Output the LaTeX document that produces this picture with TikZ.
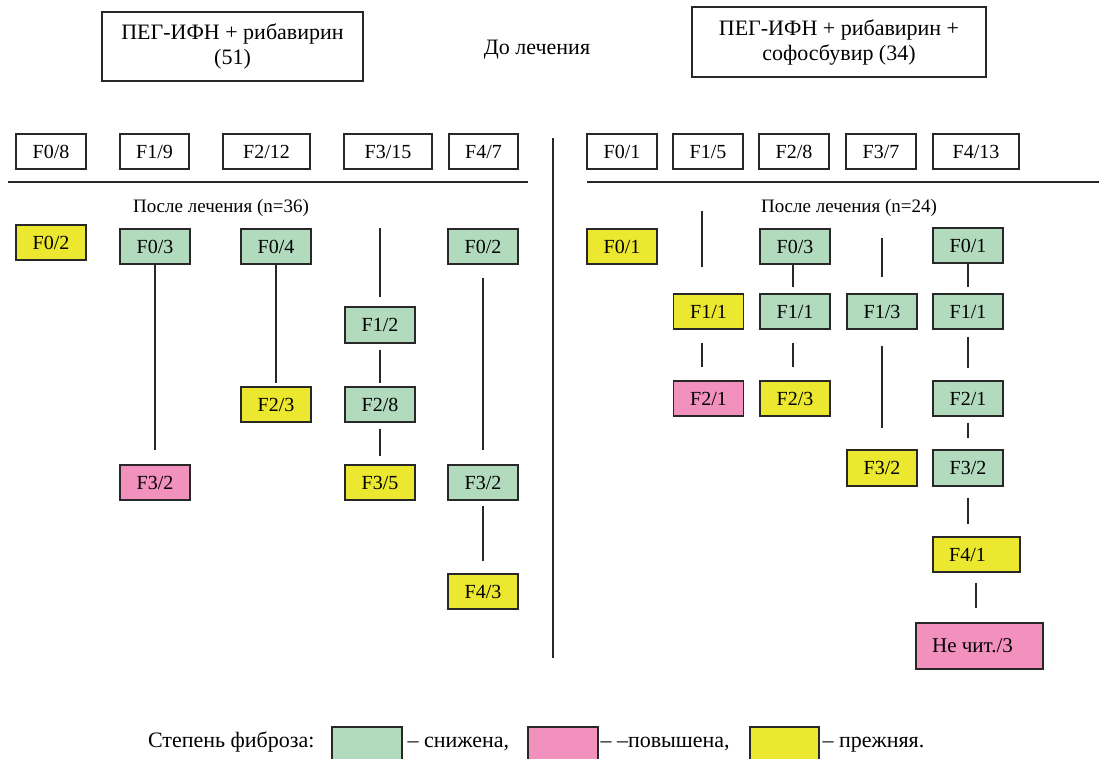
\documentclass[tikz,border=0pt]{standalone}
\usepackage{fontspec}
\setmainfont{Liberation Serif}
\definecolor{cgreen}{RGB}{178,219,190}
\definecolor{cpink}{RGB}{242,145,190}
\definecolor{cyellow}{RGB}{236,232,48}
\definecolor{cline}{RGB}{40,40,40}
\begin{document}
\begin{tikzpicture}[x=1pt,y=-1pt,
  every node/.style={font=\fontsize{20}{23}\selectfont, text=black},
  fbox/.style={draw=cline, line width=1.3pt, minimum width=70pt, minimum height=35pt, inner sep=0pt, text height=15.5pt, text depth=2pt},
  gbox/.style={fbox, fill=cgreen},
  pbox/.style={fbox, fill=cpink},
  ybox/.style={fbox, fill=cyellow},
  hbox/.style={fbox, line width=1.1pt},
  tbox/.style={draw=cline, line width=1.1pt, inner sep=0pt, align=center},
  conn/.style={draw=cline, line width=1.4pt},
  big/.style={font=\fontsize{22}{25}\selectfont},
  lbl/.style={font=\fontsize{19}{22}\selectfont},
  leg/.style={font=\fontsize{22}{25}\selectfont}
]
\useasboundingbox (0,0) rectangle (1099,758);

% titles
\node[tbox, big, minimum width=261pt, minimum height=69pt] (tl) at (232.5,46.5) {ПЕГ-ИФН + рибавирин\\(51)};
\node[tbox, big, minimum width=294pt, minimum height=70pt] (tr) at (839,42) {ПЕГ-ИФН + рибавирин +\\софосбувир (34)};
\node[big] (before) at (537,50) {До лечения};

% header left
\node[hbox, minimum width=70pt] (hL0) at (51,151.5) {F0/8};
\node[hbox, minimum width=69pt] (hL1) at (154.5,151.5) {F1/9};
\node[hbox, minimum width=87pt] (hL2) at (266.5,151.5) {F2/12};
\node[hbox, minimum width=88pt] (hL3) at (388,151.5) {F3/15};
\node[hbox, minimum width=69pt] (hL4) at (483.5,151.5) {F4/7};
% header right
\node[hbox] (hR0) at (622,151.5) {F0/1};
\node[hbox] (hR1) at (708,151.5) {F1/5};
\node[hbox] (hR2) at (794,151.5) {F2/8};
\node[hbox] (hR3) at (881,151.5) {F3/7};
\node[hbox, minimum width=86pt] (hR4) at (976,151.5) {F4/13};

% separators
\coordinate (sepL1) at (8,182);
\coordinate (sepL2) at (528,182);
\coordinate (sepR1) at (587,182);
\coordinate (sepR2) at (1099,182);
\coordinate (divT) at (553,138);
\coordinate (divB) at (553,658);
\draw[conn] (sepL1) -- (sepL2);
\draw[conn] (sepR1) -- (sepR2);
\draw[conn] (divT) -- (divB);

\node[lbl] (afterL) at (221,208) {После лечения (n=36)};
\node[lbl] (afterR) at (849,208) {После лечения (n=24)};

% lower left
\node[ybox] (a1) at (51,242.5) {F0/2};
\node[gbox] (b1) at (155,246.5) {F0/3};
\node[pbox] (b2) at (155,482.5) {F3/2};
\node[gbox] (c1) at (276,246.5) {F0/4};
\node[ybox] (c2) at (276,404.5) {F2/3};
\coordinate (d0) at (380,228);
\node[gbox, minimum height=36pt] (d1) at (380,325) {F1/2};
\node[gbox] (d2) at (380,404.5) {F2/8};
\node[ybox] (d3) at (380,482.5) {F3/5};
\node[gbox] (e1) at (483,246.5) {F0/2};
\node[gbox] (e2) at (483,482.5) {F3/2};
\node[ybox] (e3) at (483,591.5) {F4/3};

\draw[conn, shorten >=14pt] (b1.south) -- (b2.north);
\draw[conn, shorten >=3pt] (c1.south) -- (c2.north);
\draw[conn, shorten >=9pt] (d0) -- (d1.north);
\draw[conn, shorten <=6pt, shorten >=3pt] (d1.south) -- (d2.north);
\draw[conn, shorten <=6pt, shorten >=8pt] (d2.south) -- (d3.north);
\draw[conn, shorten <=13pt, shorten >=14pt] (e1.south) -- (e2.north);
\draw[conn, shorten <=5pt, shorten >=12pt] (e2.south) -- (e3.north);

% lower right
\node[ybox] (f1) at (622,246.5) {F0/1};
\coordinate (g0) at (702,211);
\node[ybox] (g1) at (708.5,311.5) {F1/1};
\node[pbox] (g2) at (708.5,398.5) {F2/1};
\node[gbox] (h1) at (795,246.5) {F0/3};
\node[gbox] (h2) at (795,311.5) {F1/1};
\node[ybox] (h3) at (795,398.5) {F2/3};
\coordinate (i0) at (882,238);
\node[gbox] (i1) at (882,311.5) {F1/3};
\node[ybox, minimum height=36pt] (i2) at (882,468) {F3/2};
\node[gbox] (j1) at (968,245.5) {F0/1};
\node[gbox] (j2) at (968,311.5) {F1/1};
\node[gbox] (j3) at (968,398.5) {F2/1};
\node[gbox, minimum height=36pt] (j4) at (968,468) {F3/2};
\node[ybox, minimum width=87pt] (j5) at (976.5,554.5) {\hspace*{-18pt}F4/1};
\node[pbox, minimum width=127pt, minimum height=46pt, font=\fontsize{21}{24}\selectfont] (j6) at (979.5,646) {\hspace*{-14pt}Не чит./3};

\draw[conn, shorten >=26pt] (g0) -- (g0 |- g1.north);
\draw[conn, shorten <=13pt, shorten >=13pt] ([xshift=-6.5pt]g1.south) -- ([xshift=-6.5pt]g2.north);
\draw[conn, shorten >=6pt] ([xshift=-2pt]h1.south) -- ([xshift=-2pt]h2.north);
\draw[conn, shorten <=13pt, shorten >=13pt] ([xshift=-2pt]h2.south) -- ([xshift=-2pt]h3.north);
\draw[conn, shorten >=16pt] (i0) -- (i1.north);
\draw[conn, shorten <=16pt, shorten >=21pt] (i1.south) -- (i2.north);
\draw[conn, shorten >=6pt] (j1.south) -- (j2.north);
\draw[conn, shorten <=7pt, shorten >=12pt] (j2.south) -- (j3.north);
\draw[conn, shorten <=6pt, shorten >=11pt] (j3.south) -- (j4.north);
\draw[conn, shorten <=11pt, shorten >=12pt] (j4.south) -- (j4.south |- j5.north);
\draw[conn, shorten <=10pt, shorten >=14pt] ([xshift=-0.5pt]j5.south) -- ([xshift=-0.5pt]j5.south |- j6.north);

% legend
\node[leg, anchor=base east] (lgT) at (318,747) {Степень фиброза:};
\node[gbox, minimum height=36pt] (lgG) at (367,745) {};
\node[leg, anchor=base west] (lgGt) at (404,747) {– снижена,};
\node[pbox, minimum height=36pt] (lgP) at (563,745) {};
\node[leg, anchor=base west] (lgPt) at (597,747) {– –повышена,};
\node[ybox, minimum width=69pt, minimum height=36pt] (lgY) at (784.5,745) {};
\node[leg, anchor=base west] (lgYt) at (819,747) {– прежняя.};
\end{tikzpicture}
\end{document}
